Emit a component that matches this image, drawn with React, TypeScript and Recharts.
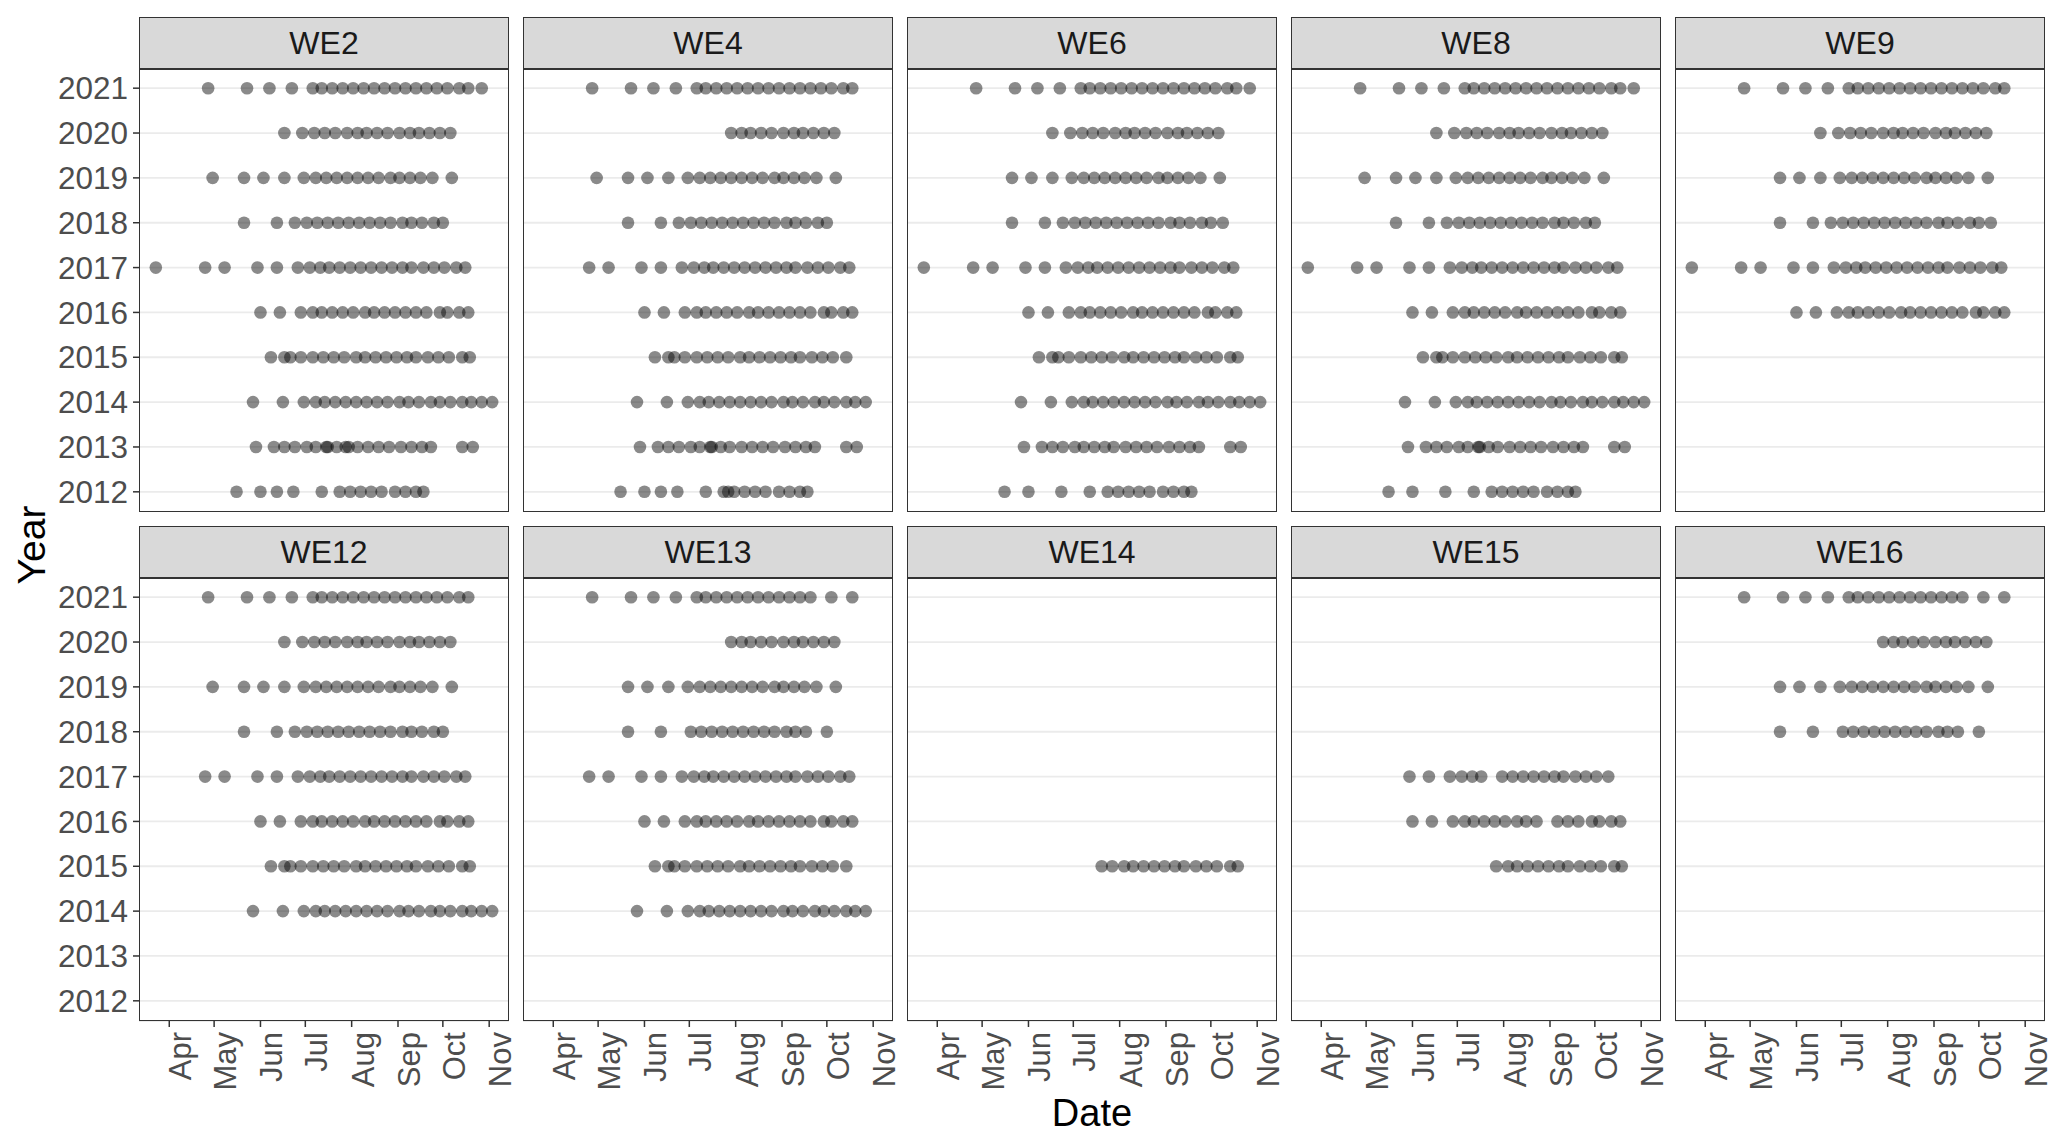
import { ScatterChart, Scatter, XAxis, YAxis, CartesianGrid } from "recharts"

// x axis: day of year, ticks on the first of each month
const monthTicks = [91, 121, 152, 182, 213, 244, 274, 305]
const monthLabels = ["Apr", "May", "Jun", "Jul", "Aug", "Sep", "Oct", "Nov"]
const yearTicks = [2012, 2013, 2014, 2015, 2016, 2017, 2018, 2019, 2020, 2021]

// survey days (day of year)
const d2021 = [117, 143, 158, 173, 187, 193, 200, 207, 214, 221, 228, 235, 242, 249, 256, 263, 270, 277, 285, 291, 300]
const d2020 = [168, 180, 188, 195, 202, 210, 217, 223, 230, 237, 245, 252, 258, 265, 272, 279]
const d2019 = [120, 141, 154, 168, 181, 189, 196, 203, 210, 217, 224, 231, 239, 245, 252, 259, 267, 280]
const d2018 = [141, 163, 175, 183, 190, 197, 204, 211, 218, 225, 232, 239, 247, 253, 260, 268, 274]
const d2017 = [82, 115, 128, 150, 163, 177, 185, 192, 198, 205, 212, 219, 226, 233, 240, 247, 253, 261, 268, 275, 283, 289]
const d2016 = [152, 165, 179, 187, 193, 200, 207, 214, 222, 228, 235, 242, 249, 256, 263, 272, 277, 285, 291]
const d2015 = [159, 168, 172, 179, 187, 194, 201, 208, 216, 222, 229, 236, 243, 250, 256, 264, 271, 278, 287, 292]
const d2014 = [147, 167, 181, 189, 195, 202, 209, 216, 223, 230, 237, 245, 251, 258, 266, 272, 279, 287, 293, 300, 307]
const d2013 = [149, 161, 168, 175, 183, 189, 196, 197, 203, 209, 211, 217, 224, 231, 238, 246, 253, 260, 266, 287, 294]
const d2012 = [136, 152, 163, 174, 193, 205, 212, 219, 226, 233, 242, 249, 256, 261]

// rows that differ at other sites
const a2021 = [117, 143, 158, 173, 187, 193, 200, 207, 214, 221, 228, 235, 242, 249, 256, 263, 270, 277, 285, 291]
const b2021 = [117, 143, 158, 173, 187, 193, 200, 207, 214, 221, 228, 235, 242, 249, 256, 263, 277, 291]
const late2020 = [210, 217, 223, 230, 237, 245, 252, 258, 265, 272, 279]
const a2019 = [141, 154, 168, 181, 189, 196, 203, 210, 217, 224, 231, 239, 245, 252, 259, 267, 280]
const long2018 = [141, 163, 175, 183, 190, 197, 204, 211, 218, 225, 232, 239, 247, 253, 260, 268, 274, 282]
const short2018 = [141, 163, 183, 190, 197, 204, 211, 218, 225, 232, 239, 247, 253, 260, 274]
const a2017 = [115, 128, 150, 163, 177, 185, 192, 198, 205, 212, 219, 226, 233, 240, 247, 253, 261, 268, 275, 283, 289]
const a2015 = [159, 168, 172, 179, 187, 194, 201, 208, 216, 222, 229, 236, 243, 250, 256, 264, 271, 278, 287]
const a2014 = [147, 167, 181, 189, 195, 202, 209, 216, 223, 230, 237, 245, 251, 258, 266, 272, 279, 287, 293, 300]
const a2013 = [149, 161, 168, 175, 183, 189, 196, 197, 203, 209, 217, 224, 231, 238, 246, 253, 260, 266, 287, 294]
const b2013 = [149, 161, 168, 175, 183, 189, 196, 203, 209, 217, 224, 231, 238, 246, 253, 260, 266, 287, 294]
const a2012 = [136, 152, 163, 174, 193, 205, 208, 212, 219, 226, 233, 242, 249, 256, 261]
const b2012 = [136, 152, 174, 193, 205, 212, 219, 226, 233, 242, 249, 256, 261]
const we14_2015 = [201, 208, 216, 222, 229, 236, 243, 250, 256, 264, 271, 278, 287, 292]
const we15_2017 = [150, 163, 177, 185, 192, 198, 212, 219, 226, 233, 240, 247, 253, 261, 268, 275, 283]
const we15_2016 = [152, 165, 179, 187, 193, 200, 207, 214, 222, 228, 235, 249, 256, 263, 272, 277, 285, 291]
const we15_2015 = [208, 216, 222, 229, 236, 243, 250, 256, 264, 271, 278, 287, 292]

type Rows = [number, number[]][]

const we2: Rows = [[2021, d2021], [2020, d2020], [2019, d2019], [2018, d2018], [2017, d2017], [2016, d2016], [2015, d2015], [2014, d2014], [2013, d2013], [2012, d2012]]
const we4: Rows = [[2021, a2021], [2020, late2020], [2019, d2019], [2018, d2018], [2017, a2017], [2016, d2016], [2015, a2015], [2014, a2014], [2013, a2013], [2012, a2012]]
const we6: Rows = [[2021, d2021], [2020, d2020], [2019, a2019], [2018, long2018], [2017, d2017], [2016, d2016], [2015, d2015], [2014, d2014], [2013, b2013], [2012, b2012]]
const we8: Rows = [[2021, d2021], [2020, d2020], [2019, d2019], [2018, d2018], [2017, d2017], [2016, d2016], [2015, d2015], [2014, d2014], [2013, a2013], [2012, b2012]]
const we9: Rows = [[2021, a2021], [2020, d2020], [2019, a2019], [2018, long2018], [2017, d2017], [2016, d2016]]
const we12: Rows = [[2021, a2021], [2020, d2020], [2019, d2019], [2018, d2018], [2017, a2017], [2016, d2016], [2015, d2015], [2014, d2014]]
const we13: Rows = [[2021, b2021], [2020, late2020], [2019, a2019], [2018, short2018], [2017, a2017], [2016, d2016], [2015, a2015], [2014, a2014]]
const we14: Rows = [[2015, we14_2015]]
const we15: Rows = [[2017, we15_2017], [2016, we15_2016], [2015, we15_2015]]
const we16: Rows = [[2021, b2021], [2020, late2020], [2019, a2019], [2018, short2018]]

const sites: [string, Rows][] = [
  ["WE2", we2], ["WE4", we4], ["WE6", we6], ["WE8", we8], ["WE9", we9],
  ["WE12", we12], ["WE13", we13], ["WE14", we14], ["WE15", we15], ["WE16", we16],
]

const FONT = '"Liberation Sans", Arial, sans-serif'
const PANEL_W = 370
const PANEL_H = 444
const PITCH = 384
const LEFT0 = 139
const STRIP_TOPS = [17, 526]
const STRIP_H = 51
const RIGHT_PAD = 30 // room for the "Nov" label past the panel edge

function Dot(props: any) {
  return <circle cx={props.cx} cy={props.cy} r={6.3} fill="#000" fillOpacity={0.46} />
}

function MonthTick(props: any) {
  const { x, y, payload } = props
  const bx = x + 22
  return (
    <text
      x={bx}
      y={y}
      transform={`rotate(-90 ${bx} ${y})`}
      textAnchor="end"
      fontSize={31}
      fill="#4d4d4d"
      fontFamily={FONT}
    >
      {monthLabels[monthTicks.indexOf(payload.value)]}
    </text>
  )
}

function Panel({ name, rows, index }: { name: string; rows: Rows; index: number }) {
  const col = index % 5
  const row = Math.floor(index / 5)
  const firstCol = col === 0
  const bottom = row === 1
  const yAxisW = firstCol ? LEFT0 : 0
  const xAxisH = bottom ? 80 : 0
  const plotLeft = LEFT0 + col * PITCH
  const stripTop = STRIP_TOPS[row]
  const plotTop = stripTop + STRIP_H
  const data = rows.flatMap(([year, days]) => days.map((day) => ({ day, year })))

  return (
    <>
      <div
        style={{
          position: "absolute",
          left: plotLeft,
          top: stripTop,
          width: PANEL_W,
          height: STRIP_H + 1.5,
          boxSizing: "border-box",
          background: "#d9d9d9",
          border: "1.5px solid #333",
          display: "flex",
          alignItems: "center",
          justifyContent: "center",
          fontFamily: FONT,
          fontSize: 32,
          color: "#1a1a1a",
        }}
      >
        {name}
      </div>
      <div style={{ position: "absolute", left: plotLeft - yAxisW, top: plotTop }}>
        <ScatterChart
          width={PANEL_W + yAxisW + RIGHT_PAD}
          height={PANEL_H + xAxisH}
          margin={{ top: 0, right: RIGHT_PAD, bottom: 0, left: 0 }}
        >
          <CartesianGrid vertical={false} stroke="#ebebeb" strokeWidth={1.8} />
          <XAxis
            type="number"
            dataKey="day"
            domain={[70.75, 318.25]}
            allowDataOverflow
            ticks={monthTicks}
            interval={0}
            hide={!bottom}
            height={xAxisH}
            axisLine={false}
            tickLine={{ stroke: "#333", strokeWidth: 1.5 }}
            tickSize={6}
            tickMargin={5}
            tick={<MonthTick />}
          />
          <YAxis
            type="number"
            dataKey="year"
            domain={[2011.55, 2021.45]}
            allowDataOverflow
            ticks={yearTicks}
            interval={0}
            hide={!firstCol}
            width={yAxisW}
            axisLine={false}
            tickLine={{ stroke: "#333", strokeWidth: 1.5 }}
            tickSize={6}
            tickMargin={5}
            tick={{ fontSize: 31.5, fill: "#4d4d4d", fontFamily: FONT }}
          />
          <Scatter data={data} shape={Dot} isAnimationActive={false} />
        </ScatterChart>
      </div>
      <div
        style={{
          position: "absolute",
          left: plotLeft,
          top: plotTop,
          width: PANEL_W,
          height: PANEL_H,
          boxSizing: "border-box",
          border: "1.5px solid #333",
          pointerEvents: "none",
        }}
      />
    </>
  )
}

export default function App() {
  return (
    <div
      style={{
        position: "absolute",
        left: 0,
        top: 0,
        width: 2067,
        height: 1144,
        background: "#fff",
        overflow: "hidden",
      }}
    >
      <svg width={2067} height={1144} style={{ position: "absolute", left: 0, top: 0 }}>
        <text
          x={45}
          y={545}
          transform="rotate(-90 45 545)"
          textAnchor="middle"
          fontSize={39}
          fontFamily={FONT}
          fill="#000"
        >
          Year
        </text>
        <text x={1092} y={1126} textAnchor="middle" fontSize={38} fontFamily={FONT} fill="#000">
          Date
        </text>
      </svg>
      {sites.map(([name, rows], i) => (
        <Panel key={name} name={name} rows={rows} index={i} />
      ))}
    </div>
  )
}
